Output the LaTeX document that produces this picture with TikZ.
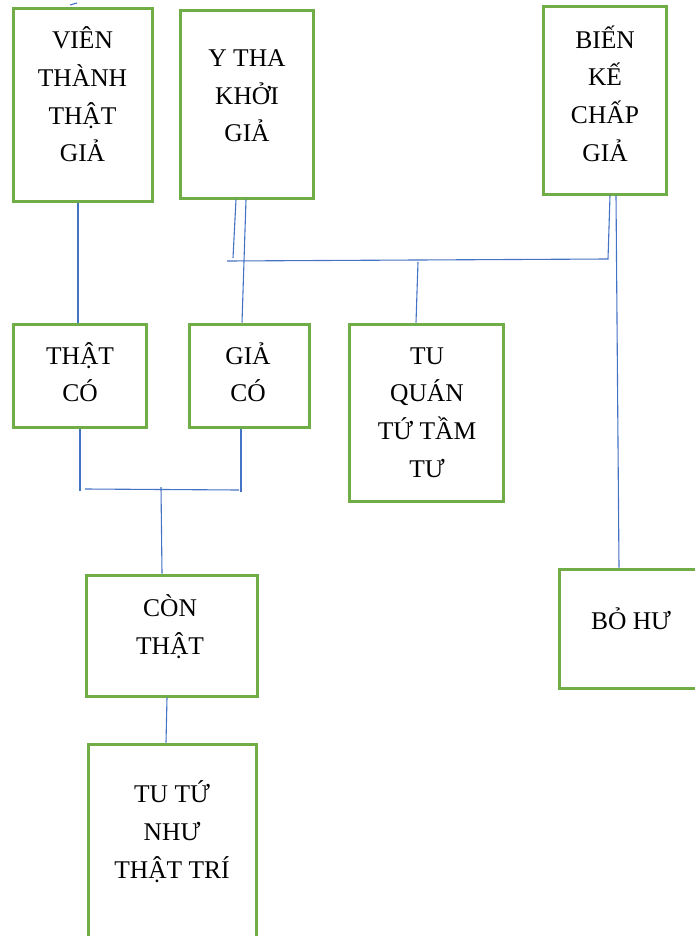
\documentclass[tikz,border=0pt]{standalone}
\usepackage{fontspec}
\setmainfont{Liberation Serif}
\definecolor{xanhla}{HTML}{70AD47}
\definecolor{xanhduong}{HTML}{4472C4}

\begin{document}
\begin{tikzpicture}[x=1pt,y=-1pt,
   hop/.style={draw=xanhla,line width=3pt,inner sep=0pt},
   chu/.style={align=center,inner sep=0pt,font=\fontsize{25.5}{37.7}\selectfont},
   noi/.style={draw=xanhduong,line width=1.1pt}]
   \useasboundingbox (0,0) rectangle (695,936);
   \clip (0,0) rectangle (695,936);

   %% Kasten
   \node[hop,minimum width=139,minimum height=192] (vien) at (82.5,105) {};
   \node[hop,minimum width=133,minimum height=187] (ytha) at (246.5,104.5) {};
   \node[hop,minimum width=123,minimum height=187] (bien) at (604.5,100.5) {};
   \node[hop,minimum width=133,minimum height=103] (thatco) at (79.5,375.5) {};
   \node[hop,minimum width=120,minimum height=103] (giaco) at (249,375.5) {};
   \node[hop,minimum width=154,minimum height=177] (tuquan) at (426,412.5) {};
   \node[hop,minimum width=171,minimum height=121] (conthat) at (171.5,635.5) {};
   \node[hop,minimum width=168,minimum height=216] (tutu) at (172,852) {};
   \node[hop,minimum width=144,minimum height=119] (bohu) at (631,628.5) {};

   %% Text
   \node[chu] (vien-chu) at (82.5,94.5) {VIÊN\\THÀNH\\THẬT\\GIẢ};
   \node[chu] (ytha-chu) at (247,96) {Y THA\\KHỞI\\GIẢ};
   \node[chu] (bien-chu) at (605,93.5) {BIẾN\\KẾ\\CHẤP\\GIẢ};
   \node[chu] (thatco-chu) at (80,372.2) {THẬT\\CÓ};
   \node[chu] (giaco-chu) at (248,372.4) {GIẢ\\CÓ};
   \node[chu] (tuquan-chu) at (427,412.5) {TU\\QUÁN\\TỨ TẦM\\TƯ};
   \node[chu] (conthat-chu) at (170,627) {CÒN\\THẬT};
   \node[chu] (tutu-chu) at (172,831.5) {TU TỨ\\NHƯ\\THẬT TRÍ};
   \node[chu] (bohu-chu) at (631,618.4) {BỎ HƯ};

   %% Linien
   \coordinate (tren-trai) at (227,261);
   \coordinate (tren-phai) at (608,259);
   \coordinate (tren-giua) at (418,262);
   \coordinate (ytha-cut) at (233,258);
   \coordinate (duoi-trai) at (80,491);
   \coordinate (duoi-phai) at (241,492);
   \coordinate (ngang-trai) at (85,489);
   \coordinate (ngang-phai) at (239,490);
   \coordinate (duoi-giua) at (161,487);

   \draw[noi] (70,5) -- (77,3);
   \draw[noi] ([xshift=-4.5pt]vien.south) -- ([xshift=-1.5pt]thatco.north);
   \draw[noi] ([xshift=-10.5pt]ytha.south) -- (ytha-cut);
   \draw[noi] ([xshift=-0.5pt]ytha.south) -- ([xshift=-7pt]giaco.north);
   \draw[noi] (tren-trai) -- (tren-phai) -- ([xshift=5.5pt]bien.south);
   \draw[noi] (tren-giua) -- ([xshift=-10pt]tuquan.north);
   \draw[noi] ([xshift=11.5pt]bien.south) -- ([xshift=-12pt]bohu.north);
   \draw[noi] ([xshift=0.5pt]thatco.south) -- (duoi-trai);
   \draw[noi] ([xshift=-8pt]giaco.south) -- (duoi-phai);
   \draw[noi] (ngang-trai) -- (ngang-phai);
   \draw[noi] (duoi-giua) -- ([xshift=-9.5pt]conthat.north);
   \draw[noi] ([xshift=-4.5pt]conthat.south) -- ([xshift=-6pt]tutu.north);
  \end{tikzpicture}
\end{document}
